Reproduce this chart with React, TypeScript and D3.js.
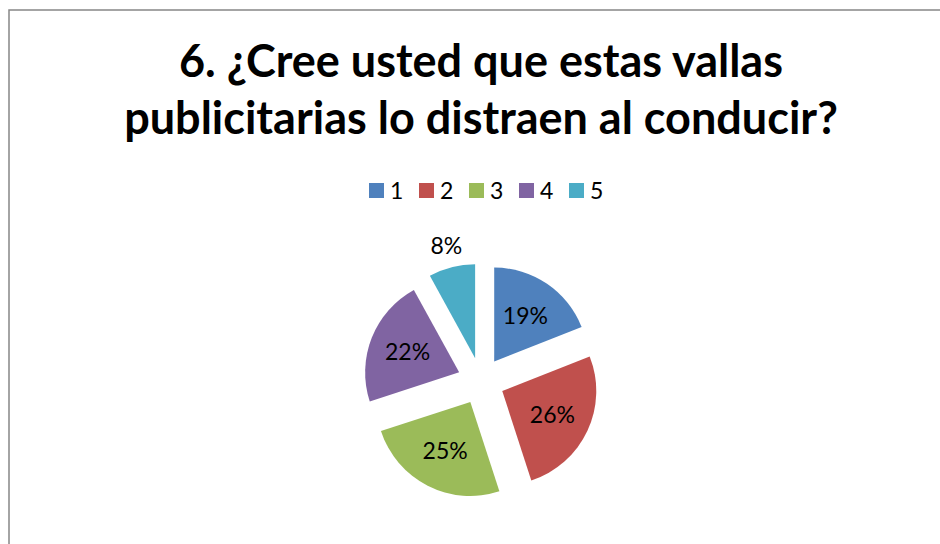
import React from "react";
import * as d3 from "d3";

const titleLines = ["6. ¿Cree usted que estas vallas", "publicitarias lo distraen al conducir?"];
const categories = ["1", "2", "3", "4", "5"];
const values = [19, 26, 25, 22, 8];
const colors = ["#4F81BD", "#C0504D", "#9BBB59", "#8064A2", "#4BACC6"];

const width = 940;
const height = 544;
const font = "Lato, 'Open Sans', sans-serif";

function App() {
  const cx = 481;
  const cy = 381;
  const radius = 94;
  const explode = radius * 0.25;
  const total = d3.sum(values);

  const pie = d3
    .pie<number>()
    .sort(null)
    .value(d => d);
  const arcs = pie(values);
  const arc = d3.arc<d3.PieArcDatum<number>>().innerRadius(0).outerRadius(radius);

  const legendX = d3
    .scalePoint<string>()
    .domain(categories)
    .range([369, 569]);

  return (
    <svg
      width={width}
      height={height}
      style={{ position: "absolute", left: 0, top: 0, background: "#fff" }}
    >
      <rect x={0} y={0} width={width} height={height} fill="#fff" />
      <rect x={9} y={10} width={width + 20} height={height + 20} fill="#fff" stroke="#878787" strokeWidth={1.5} />

      <g fontFamily={font} fontWeight="bold" fontSize={45} textAnchor="middle" fill="#000">
        {titleLines.map((t, i) => (
          <text key={i} x={481} y={77 + i * 57}>
            {t}
          </text>
        ))}
      </g>

      <g fontFamily={font} fontSize={23}>
        {categories.map((c, i) => (
          <g key={c} transform={`translate(${legendX(c)},183)`}>
            <rect width={15} height={15} fill={colors[i]} />
            <text x={21} y={16} fill="#000">
              {c}
            </text>
          </g>
        ))}
      </g>

      <g transform={`translate(${cx},${cy})`}>
        {arcs.map((a, i) => {
          const mid = (a.startAngle + a.endAngle) / 2;
          const dx = explode * Math.sin(mid);
          const dy = -explode * Math.cos(mid);
          const pct = a.data / total;
          const lr = pct < 0.1 ? radius + 22 : radius * 0.59;
          return (
            <g key={i} transform={`translate(${dx},${dy})`}>
              <path d={arc(a) ?? undefined} fill={colors[i]} />
              <text
                x={lr * Math.sin(mid)}
                y={-lr * Math.cos(mid)}
                dy="0.35em"
                textAnchor="middle"
                fontFamily={font}
                fontSize={23}
                fill="#000"
              >
                {`${Math.round(pct * 100)}%`}
              </text>
            </g>
          );
        })}
      </g>
    </svg>
  );
}

export default App;
